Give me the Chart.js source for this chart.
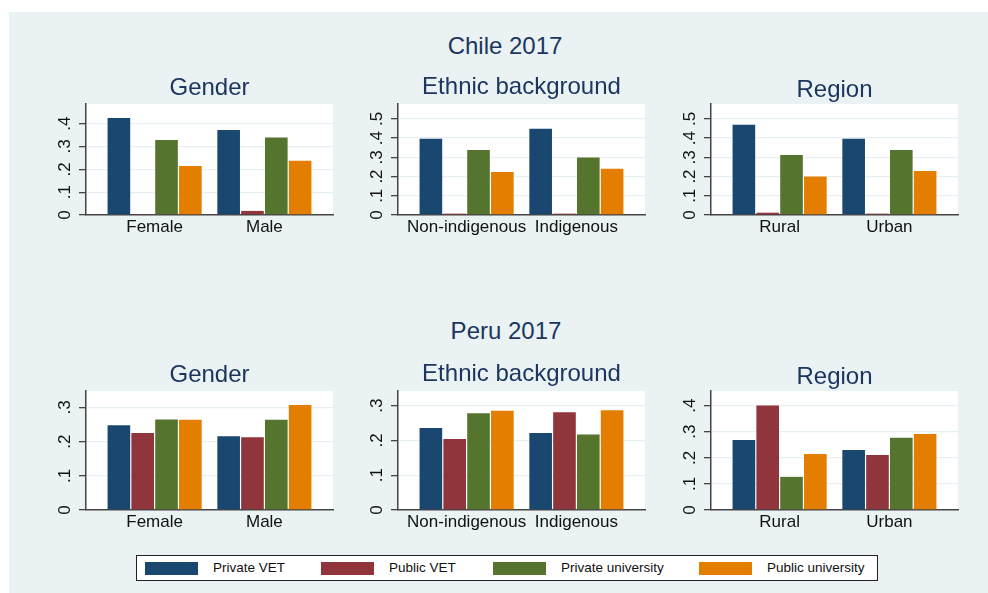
<!DOCTYPE html>
<html>
<head>
<meta charset="utf-8">
<script src="https://cdn.jsdelivr.net/npm/chart.js@4.4.0/dist/chart.umd.min.js"></script>
<style>
  body { margin: 0; width: 988px; height: 593px; overflow: hidden; background: #fff; font-family: "Liberation Sans", Arial, sans-serif; }
  #bg { position: absolute; left: 9px; top: 12px; width: 979px; height: 581px; background: #eaf2f3; }
  .title { position: absolute; color: #1c3660; white-space: nowrap; line-height: 1; transform: translateX(-50%); }
  canvas { position: absolute; }
  #legend { position: absolute; left: 136px; top: 555px; width: 740px; height: 24px; border: 1px solid #222; background: #fff; }
  .sw { position: absolute; top: 6px; width: 53px; height: 13px; }
  .lt { position: absolute; font-size: 13.5px; line-height: 1; color: #111; white-space: nowrap; }
</style>
</head>
<body>
<div id="bg"></div>
<div id="legend"></div>
<script>
const seriesNames = ['Private VET', 'Public VET', 'Private university', 'Public university'];
const seriesColors = ['#1a476f', '#90353b', '#55752f', '#e37e00'];

const genderCats = ['Female', 'Male'];
const ethnicCats = ['Non-indigenous', 'Indigenous'];
const regionCats = ['Rural', 'Urban'];

// one inner array per series: [first category, second category]
const chileGender = [[0.425, 0.372], [0.004, 0.018], [0.328, 0.339], [0.215, 0.237]];
const chileEthnic = [[0.397, 0.448], [0.007, 0.007], [0.338, 0.299], [0.224, 0.240]];
const chileRegion = [[0.469, 0.396], [0.012, 0.007], [0.312, 0.338], [0.200, 0.229]];
const peruGender = [[0.248, 0.216], [0.225, 0.213], [0.265, 0.264], [0.264, 0.307]];
const peruEthnic = [[0.236, 0.221], [0.204, 0.281], [0.278, 0.217], [0.285, 0.287]];
const peruRegion = [[0.268, 0.230], [0.400, 0.211], [0.127, 0.277], [0.215, 0.291]];

const ticks3 = [0, 0.1, 0.2, 0.3];
const ticks4 = [0, 0.1, 0.2, 0.3, 0.4];
const ticks5 = [0, 0.1, 0.2, 0.3, 0.4, 0.5];

const countryTitles = ['Chile 2017', 'Peru 2017'];
const panelTitles = ['Gender', 'Ethnic background', 'Region'];

// layout
const axisX = [86, 398, 711];
const plotW = 247;
const rows = [
  { top: 104, bottom: 215, titleBase: [95, 94, 97], countryBase: 54.5, countryX: 505 },
  { top: 391, bottom: 510, titleBase: [382, 381, 384], countryBase: 339.5, countryX: 506 }
];
const panels = [
  { row: 0, col: 0, cats: genderCats, values: chileGender, ticks: ticks4, max: 0.486 },
  { row: 0, col: 1, cats: ethnicCats, values: chileEthnic, ticks: ticks5, max: 0.577 },
  { row: 0, col: 2, cats: regionCats, values: chileRegion, ticks: ticks5, max: 0.577 },
  { row: 1, col: 0, cats: genderCats, values: peruGender, ticks: ticks3, max: 0.348 },
  { row: 1, col: 1, cats: ethnicCats, values: peruEthnic, ticks: ticks3, max: 0.342 },
  { row: 1, col: 2, cats: regionCats, values: peruRegion, ticks: ticks4, max: 0.456 }
];

const FONT = '"Liberation Sans", Arial, sans-serif';
const TITLE_SIZE = 24;
const fmt = v => v === 0 ? '0' : v.toFixed(1).replace(/^0/, '');

function addTitle(text, cx, baseline, size) {
  const d = document.createElement('div');
  d.className = 'title';
  d.textContent = text;
  d.style.fontSize = size + 'px';
  d.style.left = cx + 'px';
  d.style.top = (baseline - 0.8465 * size) + 'px';
  document.body.appendChild(d);
}

const stataPlugin = {
  id: 'stata',
  beforeDraw(chart) {
    const a = chart.chartArea, ctx = chart.ctx;
    ctx.save();
    ctx.fillStyle = '#fff';
    ctx.fillRect(a.left, a.top, a.right - a.left, a.bottom - a.top);
    ctx.restore();
  },
  afterDraw(chart) {
    const ctx = chart.ctx, a = chart.chartArea;
    const ys = chart.scales.y, xs = chart.scales.x;
    const cats = chart.options.plugins.stata.cats;
    ctx.save();
    ctx.fillStyle = '#111';
    ctx.font = '17px ' + FONT;
    ctx.textAlign = 'center';
    ctx.textBaseline = 'alphabetic';
    ys.ticks.forEach(t => {
      ctx.save();
      ctx.translate(a.left - 16.5, ys.getPixelForValue(t.value));
      ctx.rotate(-Math.PI / 2);
      ctx.fillText(fmt(t.value), 0, 0);
      ctx.restore();
    });
    ctx.font = '17px ' + FONT;
    xs.ticks.forEach(t => {
      ctx.fillText(cats[t.value], xs.getPixelForValue(t.value), a.bottom + 17);
    });
    ctx.restore();
  }
};

panels.forEach(p => {
  const r = rows[p.row];
  const ax = axisX[p.col];
  const cv = document.createElement('canvas');
  const w = 60 + plotW + 5;
  const h = (r.bottom - r.top) + 5 + 35;
  cv.width = w; cv.height = h;
  cv.style.left = (ax - 60) + 'px';
  cv.style.top = (r.top - 5) + 'px';
  document.body.appendChild(cv);

  new Chart(cv, {
    type: 'bar',
    data: {
      datasets: p.values.map((vals, i) => ({
        label: seriesNames[i],
        data: vals.map((v, k) => ({ x: k, y: v })),
        backgroundColor: seriesColors[i],
        borderWidth: 0
      }))
    },
    options: {
      responsive: false,
      animation: false,
      devicePixelRatio: 1,
      layout: { padding: { top: 5, right: 5, left: 0, bottom: 0 } },
      datasets: { bar: { categoryPercentage: 0.868, barPercentage: 0.95 } },
      plugins: { legend: { display: false }, tooltip: { enabled: false }, stata: { cats: p.cats } },
      scales: {
        x: {
          type: 'linear', min: -0.625, max: 1.625, offset: false,
          grid: { display: false },
          border: { display: true, color: '#444', width: 1.5 },
          ticks: { display: false },
          afterBuildTicks: s => { s.ticks = p.cats.map((c, k) => ({ value: k })); },
          afterFit: s => { s.height = 35; }
        },
        y: {
          min: 0, max: p.max,
          grid: {
            color: c => c.tick && c.tick.value === 0 ? 'rgba(0,0,0,0)' : '#e6eff1',
            lineWidth: 1.3,
            tickColor: '#444', tickLength: 7, tickWidth: 1.3
          },
          border: { display: true, color: '#444', width: 1.5 },
          ticks: { display: false },
          afterBuildTicks: s => { s.ticks = p.ticks.map(v => ({ value: v })); },
          afterFit: s => { s.width = 60; }
        }
      }
    },
    plugins: [stataPlugin]
  });

  addTitle(panelTitles[p.col], ax + plotW / 2, r.titleBase[p.col], TITLE_SIZE);
});

rows.forEach((r, i) => addTitle(countryTitles[i], r.countryX, r.countryBase, TITLE_SIZE));

// legend
const legend = document.getElementById('legend');
const swLeft = [8, 184, 356, 562];
seriesNames.forEach((name, i) => {
  const sw = document.createElement('div');
  sw.className = 'sw';
  sw.style.left = swLeft[i] + 'px';
  sw.style.background = seriesColors[i];
  legend.appendChild(sw);
  const t = document.createElement('div');
  t.className = 'lt';
  t.textContent = name;
  t.style.left = (swLeft[i] + 68) + 'px';
  t.style.top = (16.5 - 0.8465 * 13.5) + 'px';
  legend.appendChild(t);
});
</script>
</body>
</html>
